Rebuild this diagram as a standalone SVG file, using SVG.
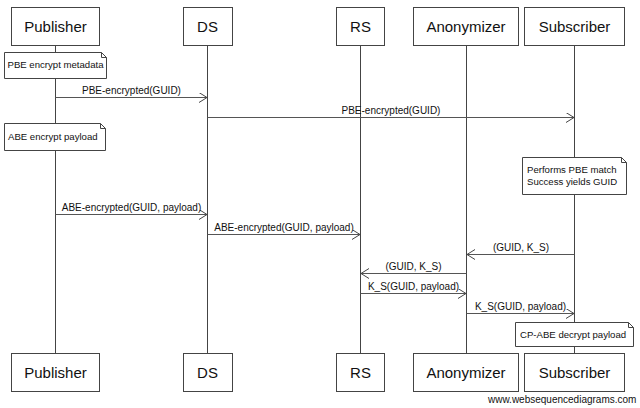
<svg xmlns="http://www.w3.org/2000/svg" width="640" height="408" viewBox="0 0 640 408">
<defs>
<marker id="arr" markerUnits="userSpaceOnUse" markerWidth="10" markerHeight="12" refX="8" refY="5" orient="auto">
<path d="M0,0 L8,5 L0,10" fill="none" stroke="#444" stroke-width="1"/>
</marker>
</defs>
<style>
.box{fill:#fff;stroke:#444;stroke-width:1}
.life{stroke:#444;stroke-width:1}
.title{font-family:"Liberation Sans",Arial,sans-serif;font-size:15px;fill:#111;text-anchor:middle}
.msg{stroke:#555;stroke-width:1;fill:none;marker-end:url(#arr)}
.lbl{font-family:"Liberation Sans",Arial,sans-serif;font-size:10px;fill:#111;text-anchor:middle}
.note{fill:#fff;stroke:#444;stroke-width:1}
.ntxt{font-family:"Liberation Sans",Arial,sans-serif;font-size:9.6px;fill:#111}
</style>
<rect width="640" height="408" fill="#fff"/>
<g id="lifelines">
<line class="life" x1="55.5" y1="45" x2="55.5" y2="353"/>
<line class="life" x1="207.5" y1="45" x2="207.5" y2="353"/>
<line class="life" x1="360.5" y1="45" x2="360.5" y2="353"/>
<line class="life" x1="466.5" y1="45" x2="466.5" y2="353"/>
<line class="life" x1="574.5" y1="45" x2="574.5" y2="353"/>
</g>
<g id="publisher">
<rect class="box" x="11.5" y="7.5" width="88" height="38"/>
<text class="title" x="55.5" y="31.5">Publisher</text>
<rect class="box" x="11.5" y="353.5" width="88" height="38"/>
<text class="title" x="55.5" y="377.5">Publisher</text>
</g>
<g id="ds">
<rect class="box" x="183.5" y="7.5" width="49" height="38"/>
<text class="title" x="207.5" y="31.5">DS</text>
<rect class="box" x="183.5" y="353.5" width="49" height="38"/>
<text class="title" x="207.5" y="377.5">DS</text>
</g>
<g id="rs">
<rect class="box" x="336.5" y="7.5" width="48" height="38"/>
<text class="title" x="360.5" y="31.5">RS</text>
<rect class="box" x="336.5" y="353.5" width="48" height="38"/>
<text class="title" x="360.5" y="377.5">RS</text>
</g>
<g id="anonymizer">
<rect class="box" x="413.5" y="7.5" width="105" height="38"/>
<text class="title" x="466" y="31.5">Anonymizer</text>
<rect class="box" x="413.5" y="353.5" width="105" height="38"/>
<text class="title" x="466" y="377.5">Anonymizer</text>
</g>
<g id="subscriber">
<rect class="box" x="524.5" y="7.5" width="100" height="38"/>
<text class="title" x="574.5" y="31.5">Subscriber</text>
<rect class="box" x="524.5" y="353.5" width="100" height="38"/>
<text class="title" x="574.5" y="377.5">Subscriber</text>
</g>
<g id="note-pbe">
<path class="note" d="M4.5,52.5 H101.5 L106.5,57.5 V78.5 H4.5 Z"/>
<path d="M101.5,52.5 V57.5 H106.5" fill="none" stroke="#444"/>
<text class="ntxt" x="7.5" y="68">PBE encrypt metadata</text>
</g>
<g id="note-abe">
<path class="note" d="M4.5,123.5 H100.5 L105.5,128.5 V150.5 H4.5 Z"/>
<path d="M100.5,123.5 V128.5 H105.5" fill="none" stroke="#444"/>
<text class="ntxt" x="8" y="140">ABE encrypt payload</text>
</g>
<g id="note-match">
<path class="note" d="M522.5,157.5 H621.5 L626.5,162.5 V194.5 H522.5 Z"/>
<path d="M621.5,157.5 V162.5 H626.5" fill="none" stroke="#444"/>
<text class="ntxt" x="527" y="173">Performs PBE match</text>
<text class="ntxt" x="527" y="185">Success yields GUID</text>
</g>
<g id="note-cpabe">
<path class="note" d="M515.5,322.5 H628.5 L633.5,327.5 V346.5 H515.5 Z"/>
<path d="M628.5,322.5 V327.5 H633.5" fill="none" stroke="#444"/>
<text class="ntxt" x="520" y="338">CP-ABE decrypt payload</text>
</g>
<g id="connectors">
<line class="msg" x1="55.5" y1="97.5" x2="207" y2="97.5"/>
<text class="lbl" x="131.5" y="94">PBE-encrypted(GUID)</text>
<line class="msg" x1="207.5" y1="117.5" x2="574" y2="117.5"/>
<text class="lbl" x="391" y="114">PBE-encrypted(GUID)</text>
<line class="msg" x1="55.5" y1="214.5" x2="207" y2="214.5"/>
<text class="lbl" x="131.5" y="211">ABE-encrypted(GUID, payload)</text>
<line class="msg" x1="207.5" y1="234.5" x2="360" y2="234.5"/>
<text class="lbl" x="284" y="231">ABE-encrypted(GUID, payload)</text>
<line class="msg" x1="574.5" y1="254.5" x2="467" y2="254.5"/>
<text class="lbl" x="521" y="251">(GUID, K_S)</text>
<line class="msg" x1="466.5" y1="273.5" x2="361" y2="273.5"/>
<text class="lbl" x="413.5" y="270">(GUID, K_S)</text>
<line class="msg" x1="360.5" y1="293.5" x2="466" y2="293.5"/>
<text class="lbl" x="413.5" y="290">K_S(GUID, payload)</text>
<line class="msg" x1="466.5" y1="313.5" x2="574" y2="313.5"/>
<text class="lbl" x="520.5" y="310">K_S(GUID, payload)</text>
</g>
<text x="488" y="403" font-family="Liberation Sans, Arial, sans-serif" font-size="10" fill="#111">www.websequencediagrams.com</text>
</svg>
